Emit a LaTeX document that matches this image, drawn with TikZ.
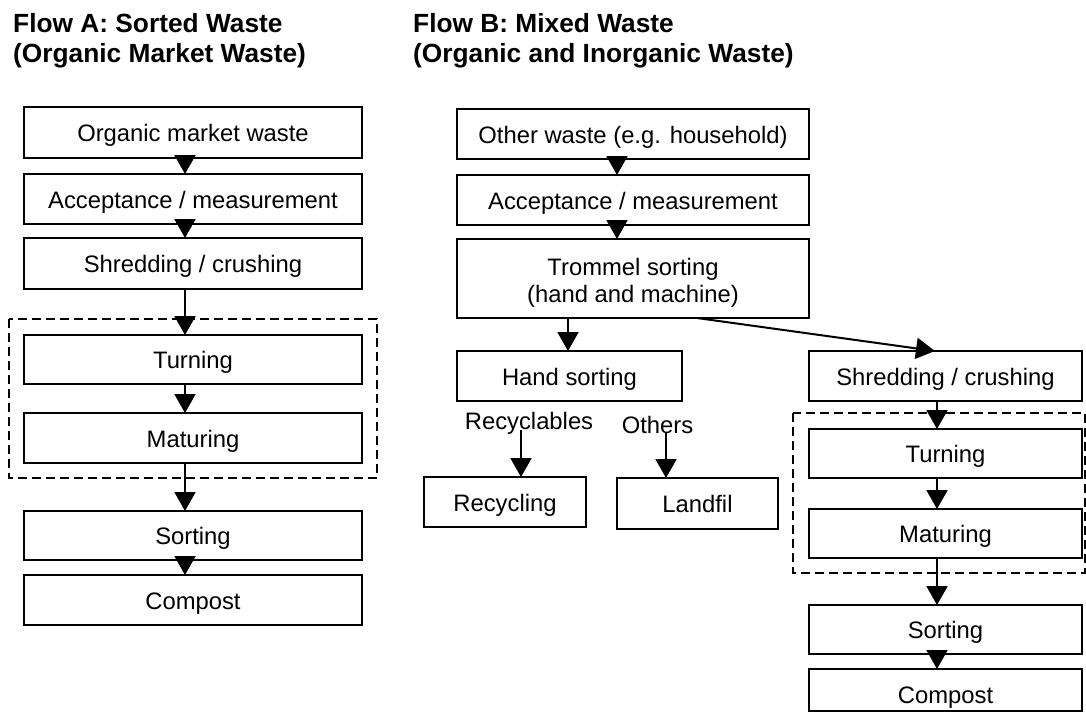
\documentclass[tikz,border=0pt]{standalone}
\usepackage{fontspec}
\setmainfont{Liberation Sans}
\usetikzlibrary{arrows.meta}
\tikzset{
  box/.style={draw, line width=2pt, inner sep=0pt, outer sep=0pt, align=center,
    text height=19pt, text depth=1pt,
    font=\fontsize{23.8}{27}\selectfont},
  arr/.style={line width=2pt, -{Triangle[length=19pt,width=21pt]}},
  grp/.style={draw, line width=2pt, dash pattern=on 9pt off 5pt},
  ttl/.style={anchor=north west, align=left, inner sep=0pt,
    font=\fontsize{26.3}{30}\selectfont\bfseries},
  lbl/.style={inner sep=0pt, font=\fontsize{23.8}{29}\selectfont}
}
\begin{document}
\begin{tikzpicture}[x=1pt,y=-1pt]
\useasboundingbox (0,0) rectangle (1086,713);
% titles
\node[ttl] (tA) at (13,13) {Flow A: Sorted Waste\\(Organic Market Waste)};
\node[ttl] (tB) at (413,13) {Flow B: Mixed Waste\\(Organic and Inorganic Waste)};
% dashed groups
\draw[grp] (9,319) rectangle (377,478);
\draw[grp] (793,413) rectangle (1085,573);
% Flow A
\node[box, minimum width=338pt, minimum height=51pt] (a1) at (193,132.5) {Organic market waste};
\node[box, minimum width=338pt, minimum height=50pt] (a2) at (193,199) {Acceptance / measurement};
\node[box, minimum width=338pt, minimum height=51pt] (a3) at (193,263.5) {Shredding / crushing};
\node[box, minimum width=338pt, minimum height=49pt] (a4) at (193,359.5) {Turning};
\node[box, minimum width=338pt, minimum height=50pt] (a5) at (193,438) {Maturing};
\node[box, minimum width=338pt, minimum height=49pt] (a6) at (193,535.5) {Sorting};
\node[box, minimum width=338pt, minimum height=50pt] (a7) at (193,600) {Compost};
\coordinate (ax) at (185,0);
\draw[arr] (a1.south -| ax) -- (a2.north -| ax);
\draw[arr] (a2.south -| ax) -- (a3.north -| ax);
\draw[arr] (a3.south -| ax) -- (a4.north -| ax);
\draw[arr] (a4.south -| ax) -- (a5.north -| ax);
\draw[arr] (a5.south -| ax) -- (a6.north -| ax);
\draw[arr] (a6.south -| ax) -- (a7.north -| ax);
% Flow B
\node[box, minimum width=352pt, minimum height=50pt] (b1) at (633,134) {Other waste (e.g. household)};
\node[box, minimum width=352pt, minimum height=50pt] (b2) at (633,200) {Acceptance / measurement};
\node[box, minimum width=352pt, minimum height=79pt, text height=, text depth=] (b3) at (633,278.5)
  {\begin{tabular}{@{}c@{}}\rule{0pt}{30pt}Trommel sorting\\(hand and machine)\end{tabular}};
\node[box, minimum width=225pt, minimum height=50pt] (b4) at (569.5,376) {Hand sorting};
\node[box, minimum width=162pt, minimum height=50pt] (rec) at (505,502) {Recycling};
\node[box, minimum width=161pt, minimum height=51pt] (lan) at (697.5,503.5) {Landfil};
\node[lbl] (lrec) at (529,423) {Recyclables};
\node[lbl] (loth) at (657.5,425) {Others};
\node[box, minimum width=273pt, minimum height=50pt] (c1) at (945.5,376) {Shredding / crushing};
\node[box, minimum width=273pt, minimum height=49pt] (c2) at (945.5,453.5) {Turning};
\node[box, minimum width=273pt, minimum height=49pt] (c3) at (945.5,533.5) {Maturing};
\node[box, minimum width=273pt, minimum height=49pt] (c4) at (945.5,629.5) {Sorting};
\node[box, minimum width=273pt, minimum height=42pt] (c5) at (945.5,690) {\raisebox{-4pt}{Compost}};
\coordinate (bx) at (617,0);
\coordinate (hx) at (568,0);
\coordinate (cx) at (937,0);
\draw[arr] (b1.south -| bx) -- (b2.north -| bx);
\draw[arr] (b2.south -| bx) -- (b3.north -| bx);
\draw[arr] (b3.south -| hx) -- (b4.north -| hx);
\draw[arr] ([xshift=64pt]b3.south) -- ([xshift=-10.5pt]c1.north);
\coordinate (r0) at (521,430);
\coordinate (o0) at (666,432);
\draw[arr] (r0) -- (rec.north -| r0);
\draw[arr] (o0) -- (lan.north -| o0);
\draw[arr] (c1.south -| cx) -- (c2.north -| cx);
\draw[arr] (c2.south -| cx) -- (c3.north -| cx);
\draw[arr] (c3.south -| cx) -- (c4.north -| cx);
\draw[arr] (c4.south -| cx) -- (c5.north -| cx);
\end{tikzpicture}
\end{document}
